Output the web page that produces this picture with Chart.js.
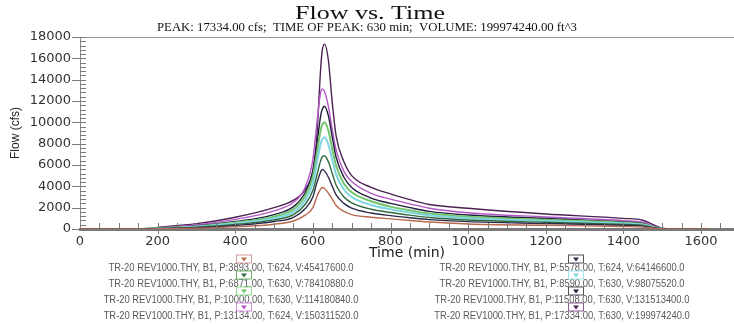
<!DOCTYPE html>
<html>
<head>
<meta charset="utf-8">
<script src="https://cdn.jsdelivr.net/npm/chart.js@4.4.0/dist/chart.umd.min.js"></script>
<style>
  html, body { margin: 0; padding: 0; background: #fff; }
</style>
</head>
<body>
<canvas id="myCanvas" width="734" height="324"></canvas>
<script>
// time (min) shared by all hydrographs
var times = [0, 150, 200, 300, 400, 500, 550, 580, 600, 610, 620, 624, 630, 640, 650, 660, 680, 700, 750, 800, 850, 900, 1000, 1200, 1400, 1450, 1480, 1500, 1530, 1620];

// flow (cfs), one list per run
var flow3893  = [0, 0, 20, 80, 200, 450, 750, 1300, 2000, 3000, 3750, 3893, 3800, 3350, 2800, 2200, 1650, 1350, 1100, 950, 800, 650, 470, 350, 230, 180, 60, 10, 0, 0];
var flow5578  = [0, 0, 40, 130, 330, 700, 1100, 1900, 3000, 4300, 5350, 5578, 5450, 4850, 4000, 3200, 2400, 1950, 1500, 1250, 1050, 880, 690, 520, 350, 280, 100, 20, 0, 0];
var flow6871  = [0, 0, 50, 170, 420, 850, 1350, 2300, 3600, 5000, 6400, 6750, 6871, 6300, 5200, 4100, 3000, 2450, 1850, 1550, 1300, 1080, 840, 630, 430, 340, 120, 25, 0, 0];
var flow8590  = [0, 0, 60, 210, 520, 1000, 1600, 2700, 4300, 6100, 8000, 8400, 8590, 7900, 6500, 5100, 3700, 3000, 2250, 1850, 1550, 1280, 1000, 750, 510, 400, 140, 30, 0, 0];
var flow10000 = [0, 0, 70, 240, 600, 1150, 1850, 3100, 4900, 7000, 9250, 9750, 10000, 9200, 7500, 5900, 4250, 3450, 2600, 2100, 1750, 1450, 1150, 860, 580, 460, 160, 35, 0, 0];
var flow11508 = [0, 0, 80, 280, 700, 1350, 2100, 3400, 5400, 7800, 10600, 11200, 11508, 10600, 8600, 6700, 4850, 3900, 2900, 2400, 2000, 1650, 1310, 980, 660, 530, 190, 40, 0, 0];
var flow13134 = [0, 0, 110, 380, 900, 1700, 2500, 3900, 6500, 9800, 12800, 13134, 12900, 11500, 9300, 7400, 5400, 4450, 3350, 2800, 2350, 1950, 1530, 1130, 780, 630, 240, 50, 0, 0];
var flow17334 = [0, 0, 150, 500, 1100, 2000, 2700, 3700, 5500, 8600, 15000, 16700, 17334, 15800, 11800, 8700, 6300, 5000, 3900, 3300, 2750, 2300, 1940, 1400, 1000, 820, 350, 80, 20, 0];

var peaks     = [3893, 5578, 6871, 8590, 10000, 11508, 13134, 17334];
var peakTimes = [624, 624, 630, 630, 630, 630, 624, 630];
var volumes   = [45417600, 64146600, 78410880, 98075520, 114180840, 131513400, 150311520, 199974240];

var xTickValues = [0, 200, 400, 600, 800, 1000, 1200, 1400, 1600];
var yTickValues = [0, 2000, 4000, 6000, 8000, 10000, 12000, 14000, 16000, 18000];

var allFlows = [flow3893, flow5578, flow6871, flow8590, flow10000, flow11508, flow13134, flow17334];
var lineColors = ['#b8694e', '#2b2b48', '#2f6b40', '#7fd6df', '#74c46e', '#1f1f3d', '#b456c6', '#4b2252'];
var boxColors  = ['#d89a9a', '#555555', '#6ab06a', '#9ee6ec', '#8edc8e', '#555555', '#cf8fdc', '#8a5a92'];

function runLabel(i) {
  return 'TR-20 REV1000.THY, B1, P:' + peaks[i].toFixed(2) + ', T:' + peakTimes[i] + ', V:' + volumes[i].toFixed(1);
}

var datasets = allFlows.map(function (f, i) {
  return {
    label: runLabel(i),
    data: times.map(function (t, k) { return { x: t, y: f[k] }; }),
    borderColor: lineColors[i],
    backgroundColor: lineColors[i],
    borderWidth: (i === 3 || i === 4) ? 2 : 1.4,
    pointRadius: 0,
    fill: false,
    cubicInterpolationMode: 'monotone'
  };
});

// draw text squeezed/stretched horizontally
function stretchText(ctx, text, x, y, sx, align) {
  ctx.save();
  ctx.translate(x, y);
  ctx.scale(sx, 1);
  ctx.textAlign = align;
  ctx.fillText(text, 0, 0);
  ctx.restore();
}

var decor = {
  id: 'decor',
  afterDraw: function (chart) {
    var ctx = chart.ctx, a = chart.chartArea;
    var xs = chart.scales.x, ys = chart.scales.y;
    ctx.save();

    // top frame line
    ctx.strokeStyle = '#9a9a9a';
    ctx.lineWidth = 1;
    ctx.beginPath();
    ctx.moveTo(a.left, a.top + 0.5);
    ctx.lineTo(a.right, a.top + 0.5);
    ctx.stroke();

    // y ticks
    ctx.strokeStyle = '#7a7a7a';
    for (var v = 0; v <= 18000; v += 400) {
      var py = Math.round(ys.getPixelForValue(v)) + 0.5;
      var major = v % 2000 === 0;
      ctx.beginPath();
      ctx.moveTo(major ? a.left - 8 : a.left, py);
      ctx.lineTo(a.left + 6, py);
      ctx.stroke();
    }
    // x ticks
    for (var t = 50; t <= 1650; t += 50) {
      var px = Math.round(xs.getPixelForValue(t)) + 0.5;
      var maj = t % 200 === 0;
      ctx.beginPath();
      ctx.moveTo(px, a.bottom - 6);
      ctx.lineTo(px, maj ? a.bottom + 5 : a.bottom);
      ctx.stroke();
    }

    // titles
    ctx.fillStyle = '#111';
    ctx.textBaseline = 'alphabetic';
    ctx.font = '18px "Liberation Serif"';
    var w1 = ctx.measureText('Flow vs. Time').width;
    stretchText(ctx, 'Flow vs. Time', 370, 19, 150 / w1, 'center');
    ctx.font = '12px "Liberation Serif"';
    var sub = 'PEAK: ' + peaks[7].toFixed(2) + ' cfs;  TIME OF PEAK: ' + peakTimes[7] + ' min;  VOLUME: ' + volumes[7].toFixed(2) + ' ft^3';
    var w2 = ctx.measureText(sub).width;
    stretchText(ctx, sub, 367, 31, 420 / w2, 'center');

    // legend, two columns
    ctx.font = '10px "Liberation Sans"';
    ctx.textBaseline = 'middle';
    var sx = 245 / ctx.measureText(runLabel(0)).width;
    var colCenter = [231, 562], colMarker = [244, 576];
    for (var i = 0; i < peaks.length; i++) {
      var col = i % 2, row = Math.floor(i / 2);
      var ty = 268.5 + row * 16, my = 259.5 + row * 16;
      ctx.fillStyle = '#5a5a5a';
      stretchText(ctx, runLabel(i), colCenter[col], ty, sx, 'center');
      var mx = colMarker[col];
      ctx.strokeStyle = boxColors[i];
      ctx.lineWidth = 1;
      ctx.strokeRect(mx - 7.5, my - 4.5, 15, 8);
      ctx.fillStyle = lineColors[i];
      ctx.beginPath();
      ctx.moveTo(mx - 3, my - 2);
      ctx.lineTo(mx + 3, my - 2);
      ctx.lineTo(mx, my + 2);
      ctx.closePath();
      ctx.fill();
    }
    ctx.restore();
  }
};

var plainNum = function (v) { return String(v); };

var ctx = document.getElementById('myCanvas').getContext('2d');
var chart = new Chart(ctx, {
  type: 'line',
  data: { datasets: datasets },
  options: {
    responsive: false,
    animation: false,
    devicePixelRatio: 1,
    layout: { padding: { top: 37, right: 0, bottom: 61, left: 0 } },
    plugins: {
      legend: { display: false },
      title: { display: false },
      tooltip: { enabled: false }
    },
    scales: {
      x: {
        type: 'linear',
        min: 0,
        max: 1685,
        afterFit: function (s) { s.height = 34; },
        afterBuildTicks: function (s) { s.ticks = xTickValues.map(function (v) { return { value: v }; }); },
        grid: { display: false, drawTicks: false },
        border: { display: true, color: '#7a7a7a', width: 3 },
        ticks: { padding: 5, color: '#333', font: { family: 'DejaVu Sans', size: 13 }, maxRotation: 0, autoSkip: false, callback: plainNum },
        title: { display: true, text: 'Time (min)', color: '#222', font: { family: 'DejaVu Sans', size: 14 }, padding: { top: 0, bottom: 1 } }
      },
      y: {
        min: 0,
        max: 18000,
        afterFit: function (s) { s.width = 80; },
        afterBuildTicks: function (s) { s.ticks = yTickValues.map(function (v) { return { value: v }; }); },
        grid: { display: false, drawTicks: false },
        border: { display: true, color: '#8a8a8a', width: 1 },
        ticks: { padding: 9, color: '#333', font: { family: 'DejaVu Sans', size: 13 }, callback: plainNum },
        title: { display: true, text: 'Flow (cfs)', color: '#222', font: { family: 'Liberation Sans', size: 12 }, padding: { top: 8, bottom: 0 } }
      }
    }
  },
  plugins: [decor]
});
</script>
</body>
</html>
